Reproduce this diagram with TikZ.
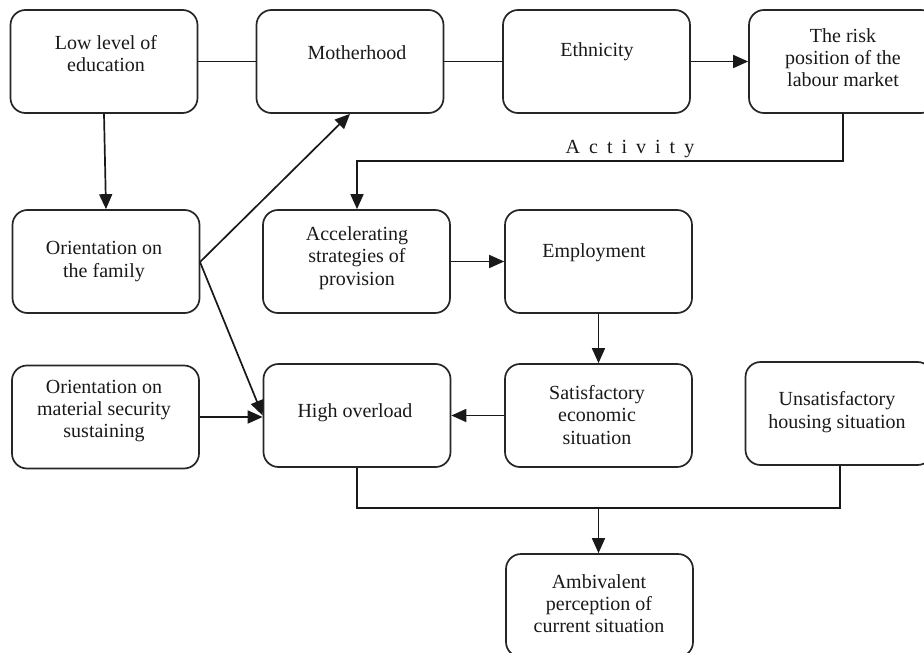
\documentclass[tikz,border=0pt]{standalone}
\usepackage{fontspec}
\setmainfont{Liberation Serif}
\newfontfamily\spacedfont[LetterSpace=45]{Liberation Serif}
\usetikzlibrary{arrows.meta}
\begin{document}
\begin{tikzpicture}[x=1pt,y=-1pt,
  box/.style={draw=black!85,line width=1.7pt,rounded corners=15pt,minimum width=187pt,minimum height=103pt,inner sep=0pt},
  txt/.style={inner sep=0pt,align=center,text=black!90,font=\fontsize{20}{22.3}\selectfont},
  conn/.style={line width=1.7pt,black!90},
  arr/.style={conn,-{Triangle[length=15pt,width=13pt]}}]
\useasboundingbox (0,0) rectangle (924,653);
% boxes
\node[box] (low) at (104,61.5) {};
\node[box] (moth) at (350,61.5) {};
\node[box] (eth) at (596.5,61.5) {};
\node[box] (risk) at (842.5,61.5) {};
\node[box] (fam) at (106,261.5) {};
\node[box] (acc) at (356.5,261.5) {};
\node[box] (emp) at (598.5,261.5) {};
\node[box] (mat) at (105.5,417) {};
\node[box] (high) at (357,415.5) {};
\node[box] (sat) at (598.5,415.5) {};
\node[box] (uns) at (839,413.5) {};
\node[box] (amb) at (599.5,605.5) {};
% texts
\node[txt] (tlow) at (106,53.5) {Low level of\\education};
\node[txt] (tmoth) at (357,53) {Motherhood};
\node[txt] (teth) at (597,52) {Ethnicity};
\node[txt] (trisk) at (843,57.5) {The risk\\position of the\\labour market};
\node[txt] (tfam) at (104,261.5) {Orientation on\\the family};
\node[txt] (tacc) at (357,258) {Accelerating\\strategies of\\provision};
\node[txt] (temp) at (594,253) {Employment};
\node[txt] (tmat) at (104,411) {Orientation on\\material security\\sustaining};
\node[txt] (thigh) at (355,413) {High overload};
\node[txt] (tsat) at (597,415) {Satisfactory\\economic\\situation};
\node[txt] (tuns) at (837,412) {Unsatisfactory\\housing situation};
\node[txt] (tamb) at (599,603.5) {Ambivalent\\perception of\\current situation};
\node[inner sep=0pt,anchor=base,text=black!90,font=\fontsize{20}{22}\spacedfont] (act) at (630,153) {Activity};
% connectors
\draw[conn] (low) -- (moth);
\draw[conn] (moth) -- (eth);
\draw[arr] (eth) -- (risk);
\draw[arr] (low.south) -- (fam.north);
\coordinate (fo) at (200,262);
\draw[arr] (fo) -- (moth.south);
\draw[arr] (fo) -- (high.west);
\coordinate (a1) at (843,161);
\coordinate (a2) at (357,161);
\draw[arr] (risk.south -| a1) -- (a1) -- (a2) -- (acc.north -| a2);
\draw[arr] (acc) -- (emp);
\draw[arr] (emp.south) -- (sat.north);
\draw[arr] (mat.east) -- (mat.east -| high.west);
\draw[arr] (sat.west |- high.east) -- (high.east);
\coordinate (b1) at (357,508);
\coordinate (b2) at (840,508);
\coordinate (b3) at (598.5,508);
\draw[conn] (high.south) -- (b1) -- (b2) -- (uns.south -| b2);
\draw[arr] (b3) -- (amb.north -| b3);
\end{tikzpicture}
\end{document}
